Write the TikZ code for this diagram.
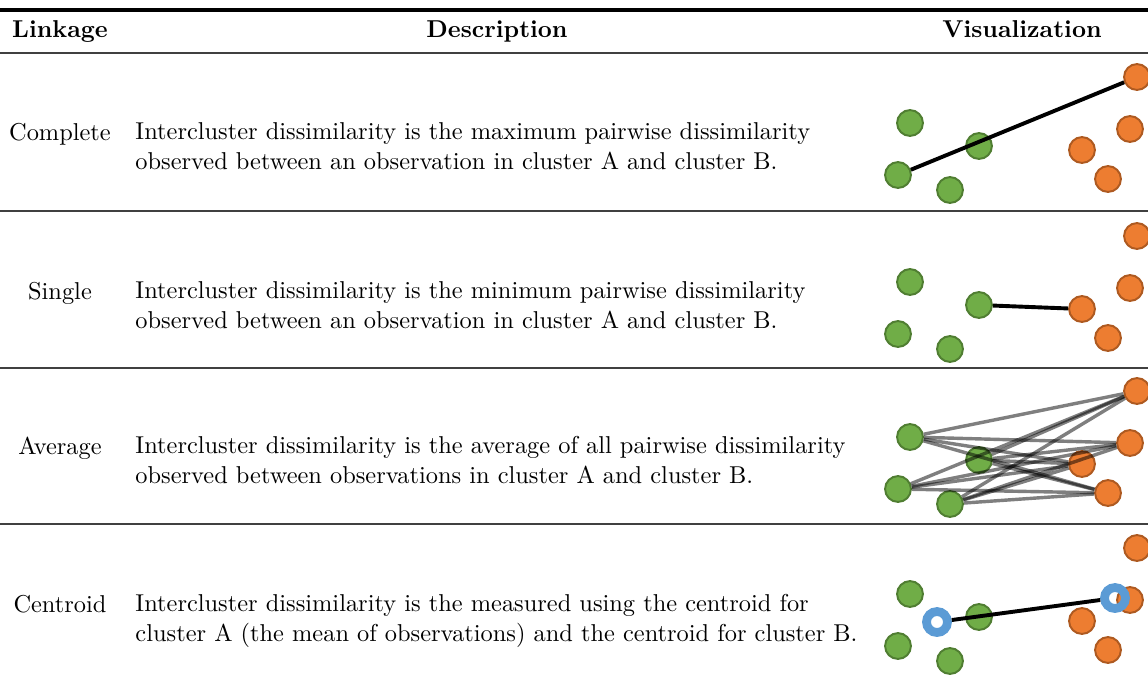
\documentclass[tikz,border=0pt]{standalone}
\usetikzlibrary{positioning}

\definecolor{verde}{HTML}{70AD47}
\definecolor{verdeb}{HTML}{507E32}
\definecolor{naranja}{HTML}{ED7D31}
\definecolor{naranjab}{HTML}{AE5A21}
\definecolor{azul}{HTML}{5B9BD5}

\tikzset{
  pverde/.style={circle,inner sep=0pt,minimum size=10.6pt,fill=verde,draw=verdeb,line width=0.8pt},
  pnaranja/.style={circle,inner sep=0pt,minimum size=10.6pt,fill=naranja,draw=naranjab,line width=0.8pt},
  centro/.style={circle,inner sep=0pt,minimum size=8.6pt,draw=azul,line width=3.6pt},
  enlace/.style={line width=1.6pt,black},
  enlacem/.style={line width=1.4pt,black,opacity=0.5},
  cab/.style={anchor=base,font=\bfseries},
  desc/.style={anchor=base west,align=left,inner sep=0pt},
  regla/.style={black!75,line width=0.6pt}
}

\begin{document}
\begin{tikzpicture}[x=0.41pt,y=-0.41pt]

    \def\ancho{1148}%Ancho
    \def\alto{677}%Alto

    \clip (0,0) rectangle (\ancho,\alto);
    \useasboundingbox (0,0) rectangle (\ancho,\alto);

    %Reglas
    \draw[line width=1.3pt] (0,10)--(\ancho,10);
    \draw[regla] (0,53)--(\ancho,53);
    \foreach \y in {211,368,524}
        \draw[regla] (0,\y)--(\ancho,\y);

    %Cabecera
    \node[cab] (hlink) at (60,37) {Linkage};
    \node[cab] (hdesc) at (497,37) {Description};
    \node[cab] (hvis) at (1022,37) {Visualization};

    %Filas
    \foreach \nom/\lab/\yy in {a/Complete/140,b/Single/299,c/Average/454,d/Centroid/612}
        \node[anchor=base] (l\nom) at (60,\yy) {\lab};

    %Texto (base = ultima linea)
    \node[desc] (da) at (135,169) {Intercluster dissimilarity is the maximum pairwise dissimilarity\\observed between an observation in cluster A and cluster B.};
    \node[desc] (db) at (135,328) {Intercluster dissimilarity is the minimum pairwise dissimilarity\\observed between an observation in cluster A and cluster B.};
    \node[desc] (dc) at (135,483) {Intercluster dissimilarity is the average of all pairwise dissimilarity\\observed between observations in cluster A and cluster B.};
    \node[desc] (dd) at (135,641) {Intercluster dissimilarity is the measured using the centroid for\\cluster A (the mean of observations) and the centroid for cluster B.};

    %Puntos
    \foreach \nom/\yb in {a/123,b/282,c/437,d/594}{
        \foreach \i/\dx/\dy in {1/910/0,2/979/23,3/898/52,4/950/67}
            \node[pverde] (g\nom\i) at ({\dx},{\yb+\dy}) {};
        \foreach \i/\dx/\dy in {1/1137/-46,2/1130/6,3/1082/27,4/1108/56}
            \node[pnaranja] (o\nom\i) at ({\dx},{\yb+\dy}) {};
    }

    %Enlaces
    \draw[enlace] (ga3)--(oa1);
    \draw[enlace] (gb2)--(ob3);
    \foreach \i in {1,...,4}
        \foreach \j in {1,...,4}
            \draw[enlacem] (gc\i)--(oc\j);
    \node[centro] (cA) at (937,622) {};
    \node[centro] (cB) at (1115,598) {};
    \draw[enlace] (cA)--(cB);

\end{tikzpicture}
\end{document}
